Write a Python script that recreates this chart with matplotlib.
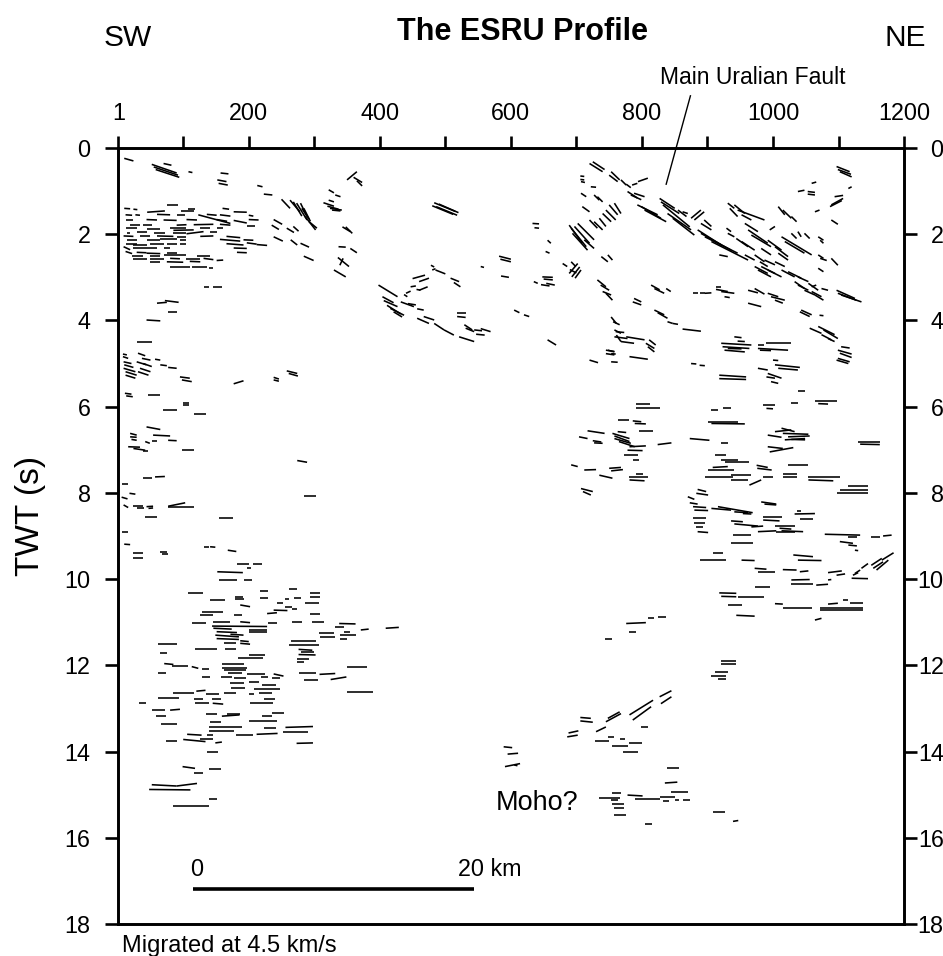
import matplotlib
matplotlib.use("Agg")
import matplotlib.pyplot as plt
from matplotlib.collections import LineCollection

plt.rcParams['font.family'] = ['Liberation Sans', 'DejaVu Sans']

# line drawing of reflections, segments as (cdp0, twt0, cdp1, twt1)
sw_shallow = [
    (10, 0.24, 24, 0.30), (52, 0.38, 90, 0.58), (55, 0.44, 92, 0.63), (58, 0.50, 94, 0.68),
    (70, 0.36, 82, 0.40), (108, 0.55, 114, 0.57), (157, 0.58, 169, 0.60), (152, 0.74, 166, 0.78),
    (154, 0.82, 168, 0.86), (213, 0.87, 221, 0.90), (223, 1.07, 236, 1.09),
]

sw_cluster = [
    (75, 1.33, 92, 1.33),
    (10, 1.40, 19, 1.41), (24, 1.42, 30, 1.43), (108, 1.41, 118, 1.41), (160, 1.40, 170, 1.42),
    (45, 1.49, 72, 1.46), (96, 1.47, 116, 1.47), (177, 1.48, 197, 1.49),
    (123, 1.55, 172, 1.75),
    (12, 1.55, 22, 1.56), (27, 1.55, 34, 1.56), (60, 1.54, 80, 1.55), (90, 1.56, 103, 1.56),
    (136, 1.54, 151, 1.56), (156, 1.55, 172, 1.58), (200, 1.56, 207, 1.58),
    (12, 1.67, 24, 1.67), (44, 1.66, 60, 1.67), (70, 1.67, 90, 1.68), (105, 1.66, 121, 1.67),
    (151, 1.66, 167, 1.70), (177, 1.68, 197, 1.74), (200, 1.66, 215, 1.67),
    (19, 1.78, 34, 1.78), (39, 1.79, 52, 1.79), (90, 1.79, 105, 1.78), (116, 1.78, 146, 1.77),
    (156, 1.77, 172, 1.79), (197, 1.82, 210, 1.82),
    (12, 1.86, 29, 1.86), (44, 1.87, 65, 1.87), (80, 1.86, 105, 1.86), (85, 1.91, 116, 1.90),
    (126, 1.86, 141, 1.86), (151, 1.85, 161, 1.85),
    (14, 1.97, 19, 1.97), (29, 1.96, 44, 1.96), (55, 1.98, 72, 1.98), (85, 1.98, 105, 1.98),
    (105, 1.99, 131, 1.94), (141, 1.96, 151, 1.96),
    (9, 2.04, 24, 2.05), (34, 2.05, 50, 2.05), (60, 2.04, 85, 2.05), (90, 2.06, 105, 2.06),
    (126, 2.05, 146, 2.04), (166, 2.05, 187, 2.08),
    (14, 2.13, 29, 2.13), (44, 2.14, 65, 2.14), (65, 2.12, 90, 2.12), (95, 2.13, 105, 2.13),
    (156, 2.12, 187, 2.16), (192, 2.13, 207, 2.14),
    (12, 2.22, 29, 2.22), (24, 2.24, 44, 2.24), (50, 2.22, 70, 2.22), (75, 2.23, 90, 2.23),
    (95, 2.22, 105, 2.22), (166, 2.22, 192, 2.25), (197, 2.20, 212, 2.23), (212, 2.24, 228, 2.26),
    (9, 2.29, 19, 2.36), (24, 2.32, 44, 2.32), (44, 2.33, 60, 2.33), (70, 2.32, 80, 2.32),
    (177, 2.32, 197, 2.33),
    (12, 2.40, 22, 2.45), (29, 2.42, 44, 2.43), (44, 2.44, 65, 2.45), (75, 2.43, 90, 2.43),
    (182, 2.42, 197, 2.43),
    (22, 2.50, 39, 2.50), (50, 2.51, 65, 2.51), (70, 2.48, 105, 2.48), (121, 2.50, 141, 2.50),
    (24, 2.57, 44, 2.57), (50, 2.58, 70, 2.58), (80, 2.56, 95, 2.57), (105, 2.57, 126, 2.57),
    (131, 2.56, 146, 2.59),
    (50, 2.64, 65, 2.64), (75, 2.64, 100, 2.65), (110, 2.63, 126, 2.64), (151, 2.61, 161, 2.60),
    (80, 2.75, 110, 2.75), (113, 2.75, 136, 2.75), (139, 2.79, 146, 2.79),
    (131, 3.23, 139, 3.23), (146, 3.23, 159, 3.23),
]

sw_steep = [
    (250, 1.19, 263, 1.40), (263, 1.21, 278, 1.48), (268, 1.25, 281, 1.58), (273, 1.28, 289, 1.67),
    (281, 1.40, 292, 1.65), (286, 1.59, 302, 1.90), (292, 1.71, 304, 1.86), (238, 1.66, 251, 1.77),
    (235, 1.79, 246, 1.89), (258, 1.86, 269, 1.96), (268, 1.82, 276, 1.93), (238, 2.06, 252, 2.16),
    (264, 2.13, 274, 2.25), (279, 2.21, 292, 2.30), (284, 2.51, 299, 2.61), (279, 1.28, 289, 1.59),
    (284, 1.40, 294, 1.70),
]

central_upper = [
    (350, 0.74, 365, 0.55), (360, 0.68, 373, 0.80), (365, 0.76, 373, 0.88),
    (322, 0.97, 330, 1.04), (332, 1.09, 340, 1.13),
    (314, 1.27, 330, 1.35), (320, 1.35, 337, 1.42), (324, 1.40, 342, 1.44), (322, 1.21, 330, 1.25),
    (327, 1.44, 340, 1.46),
    (343, 1.83, 355, 1.94), (348, 1.83, 358, 1.98),
    (337, 2.29, 348, 2.30), (355, 2.33, 365, 2.43),
    (336, 2.54, 353, 2.75), (330, 2.83, 348, 2.99), (339, 2.72, 344, 2.56),
    (483, 1.27, 515, 1.47), (480, 1.34, 512, 1.54), (486, 1.36, 518, 1.56), (490, 1.30, 520, 1.50),
    (554, 2.75, 559, 2.77), (582, 2.51, 600, 2.58), (584, 2.58, 600, 2.64), (585, 2.97, 597, 3.00),
    (633, 1.75, 643, 1.76), (636, 1.85, 643, 1.86), (656, 2.14, 661, 2.21), (653, 2.40, 659, 2.44),
    (635, 3.10, 641, 3.14),
    (648, 2.99, 664, 3.00), (650, 3.04, 664, 3.06), (654, 3.14, 667, 3.18), (646, 3.17, 659, 3.20),
    (605, 3.76, 613, 3.82), (620, 3.87, 628, 3.91), (656, 4.45, 669, 4.57),
]

central_dipping = [
    (398, 3.18, 427, 3.45), (404, 3.45, 421, 3.59), (406, 3.54, 427, 3.68), (411, 3.65, 432, 3.85),
    (416, 3.72, 437, 3.88), (421, 3.80, 434, 3.92), (437, 3.40, 442, 3.45), (440, 3.37, 447, 3.32),
    (450, 3.03, 469, 2.95), (460, 3.10, 475, 3.02), (447, 3.22, 455, 3.20), (456, 3.28, 462, 3.30),
    (460, 3.30, 473, 3.22), (432, 3.57, 452, 3.68), (443, 3.61, 455, 3.64), (457, 3.73, 467, 3.76),
    (457, 3.95, 475, 4.07), (467, 3.91, 483, 3.99), (483, 4.07, 498, 4.22), (498, 4.22, 513, 4.34),
    (478, 2.72, 483, 2.76), (480, 2.83, 485, 2.80), (485, 2.83, 500, 2.92),
    (508, 3.02, 521, 3.10), (513, 3.12, 523, 3.22), (518, 3.82, 531, 3.82), (518, 3.91, 531, 3.93),
    (529, 4.10, 541, 4.22), (531, 4.18, 544, 4.26), (544, 4.22, 556, 4.24), (554, 4.19, 569, 4.26),
    (521, 4.38, 544, 4.49), (547, 4.32, 560, 4.34),
]

ne_upper_west = [
    (720, 0.36, 740, 0.55), (725, 0.32, 743, 0.50), (753, 0.55, 766, 0.74), (750, 0.63, 763, 0.78),
    (706, 0.65, 712, 0.66), (706, 0.73, 712, 0.74), (707, 0.78, 713, 0.80), (722, 0.90, 730, 0.91),
    (707, 1.05, 715, 1.13), (727, 1.09, 735, 1.21), (732, 1.13, 740, 1.25), (709, 1.36, 720, 1.48),
    (689, 1.79, 709, 2.21), (692, 1.86, 715, 2.29), (697, 1.82, 720, 2.21), (694, 1.98, 717, 2.37),
    (702, 1.75, 727, 2.13), (712, 2.13, 727, 2.33),
    (720, 1.67, 732, 1.86), (727, 1.71, 740, 1.90), (735, 1.63, 745, 1.82), (740, 1.52, 753, 1.71),
    (745, 1.44, 760, 1.67), (750, 1.32, 763, 1.55), (758, 1.28, 768, 1.52),
    (679, 2.68, 686, 2.75), (692, 2.64, 699, 2.75), (689, 2.91, 702, 2.68), (693, 2.99, 705, 2.76),
    (698, 3.02, 707, 2.83), (690, 2.82, 700, 2.90), (738, 2.52, 748, 2.64), (748, 2.48, 755, 2.60),
    (732, 3.06, 745, 3.22), (737, 3.18, 750, 3.30), (740, 3.33, 753, 3.41), (745, 3.37, 755, 3.53),
    (753, 3.92, 761, 4.07), (756, 4.03, 766, 4.10), (758, 4.22, 768, 4.30), (761, 4.34, 768, 4.49),
    (720, 4.92, 733, 4.98), (745, 4.69, 758, 4.72), (745, 4.77, 758, 4.80), (753, 4.96, 763, 4.97),
]

ne_upper = [
    (768, 0.74, 776, 0.86), (776, 0.84, 783, 0.92), (794, 0.78, 809, 0.70), (785, 0.86, 793, 0.82),
    (778, 1.01, 793, 1.16), (783, 1.09, 799, 1.20), (788, 1.05, 804, 1.13),
    (793, 1.32, 824, 1.55), (799, 1.36, 829, 1.63), (804, 1.44, 837, 1.71), (827, 1.17, 850, 1.40),
    (829, 1.25, 857, 1.52), (832, 1.32, 873, 1.83), (839, 1.52, 875, 1.90), (847, 1.63, 880, 2.02),
    (855, 1.44, 868, 1.59), (862, 1.48, 870, 1.52), (875, 1.63, 890, 1.44), (880, 1.67, 895, 1.48),
    (885, 1.90, 921, 2.25), (890, 1.98, 936, 2.37), (896, 2.06, 946, 2.44), (906, 2.17, 962, 2.60),
    (918, 2.48, 931, 2.52), (890, 1.75, 906, 1.90), (895, 1.67, 906, 1.82),
    (929, 1.86, 936, 1.94), (931, 1.98, 941, 2.06), (931, 1.28, 941, 1.40), (934, 1.40, 946, 1.59),
    (941, 1.32, 957, 1.52), (946, 1.44, 987, 1.67), (952, 1.55, 967, 1.67), (957, 1.75, 977, 1.94),
    (962, 1.90, 992, 2.21), (967, 2.02, 997, 2.29), (944, 2.10, 962, 2.29), (952, 2.17, 972, 2.37),
    (957, 2.48, 972, 2.60), (972, 2.48, 987, 2.64), (980, 2.64, 992, 2.75), (982, 2.75, 1003, 2.91),
    (992, 2.83, 1013, 2.99), (992, 2.14, 1013, 2.37), (1003, 2.29, 1023, 2.52),
    (1013, 2.06, 1059, 2.48), (1018, 2.17, 1048, 2.44), (1008, 2.44, 1023, 2.60), (995, 1.90, 1003, 1.82),
    (1008, 1.36, 1018, 1.55), (1015, 1.44, 1028, 1.63), (1028, 1.59, 1036, 1.71),
    (1028, 1.98, 1036, 2.10), (1038, 1.94, 1043, 2.06), (1048, 1.98, 1056, 2.10), (1069, 2.06, 1077, 2.14),
    (1072, 2.14, 1077, 2.21), (1069, 2.48, 1077, 2.56), (1072, 2.56, 1082, 2.61), (1089, 2.56, 1099, 2.72),
    (1069, 2.79, 1077, 2.87), (1003, 2.64, 1018, 2.75), (1013, 2.83, 1033, 2.99), (1023, 2.87, 1043, 3.02),
    (1038, 2.99, 1054, 3.10), (972, 2.75, 992, 2.91), (977, 2.83, 997, 2.99), (982, 2.33, 997, 2.48),
    (987, 2.60, 1003, 2.71),
    (1097, 0.43, 1117, 0.55), (1099, 0.50, 1119, 0.61), (1102, 0.55, 1120, 0.67),
    (1059, 0.82, 1066, 0.79), (1038, 1.01, 1048, 0.98), (1053, 1.01, 1064, 1.03), (1053, 1.07, 1064, 1.09),
    (1115, 0.94, 1120, 0.90), (1089, 1.32, 1107, 1.17), (1087, 1.36, 1105, 1.22), (1064, 1.48, 1071, 1.44),
    (1094, 1.13, 1107, 1.10), (1089, 1.67, 1099, 1.77),
]

ne_mid = [
    (1033, 3.10, 1048, 3.26), (1038, 3.18, 1054, 3.30), (1054, 3.14, 1069, 3.30), (1048, 3.30, 1064, 3.41),
    (1059, 3.33, 1074, 3.45), (1064, 3.41, 1077, 3.53), (1059, 3.22, 1066, 3.18), (1074, 3.26, 1084, 3.30),
    (1097, 3.30, 1125, 3.49), (1099, 3.37, 1127, 3.53), (1104, 3.41, 1135, 3.57),
    (1043, 3.76, 1059, 3.87), (1041, 3.80, 1056, 3.91), (1071, 3.88, 1077, 3.89),
    (1056, 4.18, 1074, 4.30), (1069, 4.14, 1094, 4.33), (1077, 4.22, 1099, 4.42), (1074, 4.33, 1089, 4.45),
    (1084, 4.42, 1094, 4.49),
    (1104, 4.61, 1117, 4.64), (1099, 4.69, 1120, 4.78), (1102, 4.76, 1120, 4.86), (1099, 4.88, 1117, 4.96),
    (1097, 4.92, 1115, 5.00),
    (878, 3.37, 885, 3.37), (888, 3.37, 896, 3.37), (896, 3.37, 906, 3.36),
    (913, 3.22, 921, 3.22), (913, 3.28, 931, 3.33), (921, 3.33, 941, 3.37), (926, 3.45, 934, 3.47),
    (814, 3.18, 827, 3.29), (819, 3.26, 834, 3.37), (837, 3.26, 844, 3.33),
    (788, 3.49, 799, 3.57), (786, 3.57, 799, 3.64),
    (819, 3.76, 834, 3.87), (824, 3.82, 839, 3.95), (839, 4.03, 847, 4.07), (847, 4.07, 855, 4.09),
    (862, 4.20, 890, 4.25),
    (962, 3.30, 977, 3.36), (972, 3.26, 987, 3.39), (962, 3.60, 982, 3.68), (992, 3.37, 1008, 3.45),
    (997, 3.45, 1018, 3.53), (1003, 3.53, 1015, 3.60),
    (760, 4.26, 773, 4.28), (758, 4.38, 778, 4.42), (776, 4.38, 804, 4.45), (768, 4.49, 788, 4.53),
    (811, 4.45, 821, 4.57), (806, 4.53, 819, 4.65), (809, 4.61, 819, 4.73),
    (748, 4.69, 758, 4.73), (753, 4.77, 760, 4.78), (781, 4.84, 809, 4.90),
    (921, 4.53, 967, 4.57), (923, 4.61, 964, 4.65), (926, 4.69, 957, 4.73), (931, 4.65, 952, 4.66),
    (941, 4.38, 952, 4.40), (946, 4.48, 957, 4.49),
    (977, 4.57, 987, 4.57), (990, 4.53, 1028, 4.53), (977, 4.65, 1023, 4.69), (980, 4.69, 997, 4.70),
    (875, 5.00, 883, 5.01), (888, 5.04, 896, 5.05), (918, 5.27, 959, 5.31), (918, 5.35, 959, 5.37),
    (977, 5.11, 992, 5.15), (1003, 5.03, 1041, 5.09), (1008, 5.11, 1038, 5.15), (1000, 4.92, 1008, 4.93),
    (992, 5.23, 1013, 5.34), (990, 5.31, 1003, 5.34), (997, 5.42, 1008, 5.46),
]

ne_deep = [
    (1038, 5.63, 1049, 5.63), (1064, 5.86, 1097, 5.86), (1069, 5.93, 1084, 5.94), (1028, 5.92, 1038, 5.92),
    (985, 5.96, 1003, 5.96), (990, 6.04, 1000, 6.05), (906, 6.08, 916, 6.08), (924, 6.02, 936, 6.02),
    (791, 5.94, 812, 5.94), (791, 6.03, 827, 6.03),
    (763, 6.31, 781, 6.31), (786, 6.33, 799, 6.35), (789, 6.39, 806, 6.40), (796, 6.56, 817, 6.56),
    (717, 6.56, 743, 6.62), (704, 6.70, 717, 6.74), (725, 6.79, 738, 6.82), (727, 6.84, 740, 6.85),
    (755, 6.62, 781, 6.74), (758, 6.68, 781, 6.81), (758, 6.74, 783, 6.85), (765, 6.81, 789, 6.93),
    (763, 6.58, 776, 6.60),
    (781, 6.93, 806, 6.91), (778, 7.01, 801, 7.02), (773, 7.12, 794, 7.12), (786, 7.24, 796, 7.24),
    (824, 6.88, 845, 6.84), (873, 6.74, 903, 6.78), (921, 6.84, 931, 6.84),
    (901, 6.35, 947, 6.35), (906, 6.39, 957, 6.40),
    (992, 6.66, 1013, 6.71), (1003, 6.58, 1028, 6.54), (1013, 6.50, 1033, 6.58), (1015, 6.62, 1054, 6.64),
    (1023, 6.70, 1056, 6.68), (1028, 6.76, 1049, 6.77), (1018, 6.77, 1049, 6.74), (992, 6.93, 1015, 6.97),
    (995, 7.05, 1031, 6.95),
    (1130, 6.81, 1163, 6.81), (1133, 6.87, 1163, 6.88),
    (692, 7.35, 702, 7.39), (712, 7.47, 730, 7.46), (735, 7.59, 755, 7.66), (750, 7.43, 768, 7.41),
    (753, 7.49, 771, 7.46), (781, 7.63, 809, 7.63), (781, 7.70, 804, 7.72), (791, 7.56, 801, 7.56),
    (707, 7.90, 725, 7.97), (710, 7.97, 722, 8.05),
    (911, 7.12, 929, 7.12), (921, 7.24, 947, 7.24), (926, 7.28, 964, 7.28), (901, 7.46, 941, 7.46),
    (908, 7.41, 931, 7.39), (896, 7.64, 939, 7.64), (936, 7.59, 967, 7.59), (936, 7.70, 962, 7.70),
    (964, 7.82, 982, 7.70), (975, 7.36, 992, 7.41), (976, 7.43, 998, 7.47), (985, 7.64, 1000, 7.64),
    (1015, 7.56, 1036, 7.56), (1015, 7.64, 1036, 7.64), (1023, 7.36, 1054, 7.36), (1054, 7.63, 1102, 7.63),
    (1054, 7.70, 1092, 7.72),
    (1097, 8.01, 1145, 8.01), (1102, 7.94, 1145, 7.94), (1115, 7.84, 1145, 7.84),
    (870, 8.09, 880, 8.15), (873, 8.23, 885, 8.26), (885, 7.92, 898, 7.97), (883, 8.01, 901, 8.05),
    (878, 8.32, 898, 8.34), (880, 8.40, 901, 8.41), (906, 8.36, 936, 8.40), (916, 8.32, 969, 8.46),
    (941, 8.44, 962, 8.46), (954, 8.48, 967, 8.49),
    (982, 8.21, 1005, 8.26), (987, 8.26, 1005, 8.28),
    (1036, 8.41, 1043, 8.41), (1033, 8.49, 1064, 8.48), (985, 8.55, 1013, 8.55), (985, 8.63, 1010, 8.65),
    (1041, 8.61, 1061, 8.61), (936, 8.65, 954, 8.67), (941, 8.72, 977, 8.77), (967, 8.79, 985, 8.77),
    (977, 8.90, 1005, 8.88), (1003, 8.77, 1033, 8.77), (1010, 8.82, 1028, 8.84), (1013, 8.88, 1046, 8.90),
    (1005, 8.90, 1033, 8.90),
    (878, 8.59, 898, 8.59), (880, 8.69, 896, 8.69), (883, 8.79, 893, 8.79), (885, 8.90, 901, 8.92),
    (939, 8.98, 967, 8.98), (936, 9.17, 969, 9.17),
    (1079, 8.96, 1133, 8.98), (1115, 9.03, 1128, 9.03), (1102, 9.13, 1122, 9.17), (1115, 9.21, 1128, 9.23),
    (1125, 9.33, 1130, 9.34), (1150, 9.02, 1163, 9.02), (1168, 9.00, 1181, 8.98),
    (908, 9.39, 924, 9.39), (888, 9.56, 929, 9.56), (952, 9.56, 972, 9.57),
    (1031, 9.44, 1061, 9.48), (1038, 9.56, 1074, 9.57),
    (972, 9.75, 990, 9.77), (977, 9.83, 1003, 9.83), (1015, 9.78, 1036, 9.79), (1041, 9.83, 1054, 9.81),
    (1084, 9.85, 1105, 9.81), (1097, 9.91, 1110, 9.88), (1122, 9.91, 1130, 9.85),
    (1028, 10.02, 1056, 10.01), (1028, 10.12, 1061, 10.12), (1066, 10.14, 1084, 10.12), (1084, 10.02, 1089, 10.01),
    (1120, 9.98, 1145, 9.99),
    (1125, 9.87, 1133, 9.79), (1135, 9.75, 1145, 9.64), (1150, 9.68, 1166, 9.52), (1153, 9.75, 1168, 9.60),
    (1158, 9.79, 1176, 9.56), (1166, 9.56, 1184, 9.39),
    (972, 10.18, 995, 10.18), (918, 10.32, 944, 10.33), (921, 10.40, 944, 10.41), (947, 10.41, 987, 10.41),
    (931, 10.60, 952, 10.60), (944, 10.84, 972, 10.86),
    (1003, 10.57, 1015, 10.58), (1015, 10.68, 1059, 10.68), (1071, 10.66, 1138, 10.66), (1071, 10.72, 1138, 10.72),
    (1107, 10.49, 1115, 10.49), (1117, 10.55, 1138, 10.55), (1084, 10.58, 1099, 10.56), (1064, 10.95, 1074, 10.91),
    (776, 11.03, 806, 11.01), (809, 10.91, 819, 10.91), (824, 10.89, 837, 10.89), (781, 11.22, 791, 11.22),
    (743, 11.40, 755, 11.40),
]

ne_lower = [
    (921, 11.90, 944, 11.90), (921, 11.96, 944, 11.96), (911, 12.15, 931, 12.15), (905, 12.25, 929, 12.25),
    (916, 12.32, 929, 12.32),
    (827, 12.73, 845, 12.59), (829, 12.89, 845, 12.73), (781, 13.15, 817, 12.81), (786, 13.27, 814, 12.96),
    (745, 13.31, 768, 13.12), (748, 13.23, 766, 13.08), (730, 13.54, 745, 13.43), (706, 13.21, 722, 13.23),
    (706, 13.29, 725, 13.32), (799, 13.44, 810, 13.44), (686, 13.66, 702, 13.62), (688, 13.57, 703, 13.52),
    (728, 13.75, 750, 13.75), (748, 13.66, 758, 13.66), (755, 13.87, 778, 13.87), (766, 13.70, 774, 13.70),
    (781, 13.80, 800, 13.80), (771, 14.01, 794, 14.01),
    (589, 13.89, 602, 13.91), (595, 14.06, 611, 14.04), (591, 14.35, 614, 14.28), (605, 14.31, 610, 14.33),
]

moho_zone = [
    (839, 14.38, 857, 14.38), (835, 14.73, 854, 14.71), (845, 14.93, 870, 14.93),
    (735, 15.07, 766, 15.07), (755, 14.97, 768, 14.97), (753, 15.13, 763, 15.13), (755, 15.22, 773, 15.22),
    (758, 15.32, 773, 15.32), (758, 15.47, 776, 15.47), (778, 15.01, 801, 15.03), (789, 15.09, 827, 15.09),
    (828, 15.05, 850, 15.05), (832, 15.14, 842, 15.14), (850, 15.13, 857, 15.13), (862, 15.13, 873, 15.13),
    (908, 15.40, 926, 15.40), (939, 15.62, 947, 15.60), (804, 15.68, 815, 15.68),
]

sw_mid = [
    (60, 3.60, 75, 3.58), (72, 3.54, 93, 3.58), (77, 3.80, 90, 3.80), (44, 3.99, 65, 4.01), (29, 4.49, 52, 4.49),
    (8, 4.78, 14, 4.80), (8, 4.84, 16, 4.88), (9, 4.96, 21, 5.00), (10, 5.03, 24, 5.09), (9, 5.11, 27, 5.19),
    (12, 5.19, 29, 5.27), (12, 5.27, 27, 5.34), (29, 4.96, 44, 5.03), (31, 4.76, 42, 4.82), (37, 4.88, 50, 4.92),
    (39, 5.00, 52, 5.07), (34, 5.11, 50, 5.19), (31, 5.19, 47, 5.27), (57, 4.90, 65, 4.92), (65, 5.03, 75, 5.05),
    (77, 5.09, 90, 5.11), (95, 5.31, 110, 5.34), (98, 5.38, 113, 5.42),
    (177, 5.47, 192, 5.40), (238, 5.32, 246, 5.36), (238, 5.38, 246, 5.41), (258, 5.17, 274, 5.23),
    (261, 5.23, 275, 5.29),
    (11, 5.69, 21, 5.71), (13, 5.75, 23, 5.77), (47, 5.73, 65, 5.73), (69, 6.08, 90, 6.08),
    (99, 5.92, 109, 5.92), (99, 5.96, 109, 5.96), (116, 6.17, 135, 6.17), (44, 6.47, 65, 6.53),
    (54, 6.66, 80, 6.68), (19, 6.62, 29, 6.66), (19, 6.70, 29, 6.71), (21, 6.76, 29, 6.78),
    (42, 6.81, 49, 6.85), (52, 6.79, 60, 6.79), (77, 6.78, 90, 6.79),
    (16, 6.93, 34, 6.94), (24, 6.97, 42, 7.01), (39, 7.02, 47, 7.02), (98, 7.00, 116, 7.00),
    (274, 7.25, 289, 7.29), (39, 7.66, 52, 7.66), (57, 7.63, 72, 7.62), (6, 7.80, 16, 7.80),
    (18, 8.01, 27, 8.03), (6, 8.10, 15, 8.14), (9, 8.28, 16, 8.34), (24, 8.31, 39, 8.31),
    (29, 8.36, 40, 8.36), (44, 8.32, 54, 8.31), (47, 8.36, 54, 8.35), (77, 8.31, 103, 8.23),
    (77, 8.32, 116, 8.32), (42, 8.55, 60, 8.55), (154, 8.59, 176, 8.59), (284, 8.07, 303, 8.07),
    (6, 8.90, 16, 8.90), (10, 9.19, 19, 9.20), (24, 9.40, 39, 9.40), (24, 9.50, 39, 9.50),
    (65, 9.37, 75, 9.37), (67, 9.42, 77, 9.42), (132, 9.25, 139, 9.25), (141, 9.25, 149, 9.26),
    (168, 9.33, 181, 9.36),
]

sw_deep = [
    (182, 9.64, 201, 9.64), (207, 9.64, 220, 9.64), (152, 9.83, 191, 9.85), (197, 9.74, 203, 9.74),
    (154, 10.01, 182, 10.01), (192, 10.02, 205, 10.02), (108, 10.33, 130, 10.33),
    (141, 10.49, 164, 10.49), (179, 10.41, 191, 10.41), (179, 10.47, 192, 10.47), (217, 10.27, 230, 10.27),
    (217, 10.45, 230, 10.45), (243, 10.55, 253, 10.55), (261, 10.24, 274, 10.24), (256, 10.47, 261, 10.47),
    (269, 10.45, 279, 10.45), (294, 10.32, 309, 10.32), (286, 10.55, 307, 10.55), (294, 10.41, 309, 10.41),
    (187, 10.60, 202, 10.64),
    (128, 10.77, 161, 10.77), (126, 10.83, 146, 10.83), (177, 10.83, 190, 10.83), (238, 10.72, 259, 10.73),
    (228, 10.80, 243, 10.78), (256, 10.64, 266, 10.64), (266, 10.70, 274, 10.70), (294, 10.80, 309, 10.80),
    (113, 11.03, 134, 11.03), (146, 10.99, 172, 10.99), (144, 11.09, 228, 11.10), (187, 10.99, 202, 11.01),
    (230, 11.03, 243, 11.03), (266, 10.99, 281, 10.99), (297, 10.99, 315, 10.99), (338, 11.03, 363, 11.04),
    (332, 11.11, 345, 11.11),
    (146, 11.14, 174, 11.16), (200, 11.18, 228, 11.18), (200, 11.22, 228, 11.22), (151, 11.22, 182, 11.24),
    (149, 11.30, 185, 11.34), (172, 11.28, 192, 11.30), (151, 11.38, 185, 11.40), (162, 11.48, 180, 11.48),
    (187, 11.43, 200, 11.45), (187, 11.49, 202, 11.51), (307, 11.26, 330, 11.26), (309, 11.34, 332, 11.34),
    (345, 11.22, 355, 11.22), (340, 11.30, 363, 11.30), (340, 11.38, 350, 11.38), (371, 11.18, 383, 11.16),
    (409, 11.14, 429, 11.12),
    (264, 11.43, 302, 11.43), (261, 11.53, 307, 11.53), (276, 11.63, 297, 11.65), (279, 11.69, 299, 11.69),
    (276, 11.75, 302, 11.76), (274, 11.86, 292, 11.86), (274, 11.93, 284, 11.93),
    (61, 11.51, 90, 11.51), (118, 11.63, 152, 11.63), (163, 11.63, 180, 11.63), (65, 11.71, 75, 11.71),
    (200, 11.75, 225, 11.75), (183, 11.83, 222, 11.83), (71, 11.96, 85, 11.98), (83, 12.02, 108, 12.02),
    (113, 12.03, 123, 12.07), (128, 12.09, 139, 12.09), (159, 11.98, 192, 11.98), (159, 12.06, 197, 12.06),
    (162, 12.10, 196, 12.10), (61, 12.17, 74, 12.17),
    (169, 12.17, 190, 12.17), (197, 12.21, 225, 12.21), (218, 12.27, 230, 12.27), (238, 12.20, 253, 12.25),
    (235, 12.30, 248, 12.30), (276, 12.17, 302, 12.17), (308, 12.21, 332, 12.19), (284, 12.33, 305, 12.33),
    (325, 12.33, 349, 12.27), (350, 12.03, 381, 12.03),
    (128, 12.28, 141, 12.28), (157, 12.28, 174, 12.28), (178, 12.30, 196, 12.30), (200, 12.38, 215, 12.38),
    (172, 12.40, 192, 12.40), (208, 12.54, 247, 12.54), (220, 12.46, 241, 12.46), (173, 12.52, 195, 12.52),
    (84, 12.64, 117, 12.64), (120, 12.60, 134, 12.58), (134, 12.67, 154, 12.67), (162, 12.64, 180, 12.64),
    (200, 12.67, 208, 12.67), (215, 12.65, 236, 12.65), (61, 12.75, 94, 12.75), (116, 12.77, 130, 12.77),
    (144, 12.78, 157, 12.78), (202, 12.87, 237, 12.87), (223, 12.77, 240, 12.77), (118, 12.88, 139, 12.88),
    (145, 12.88, 161, 12.90), (350, 12.61, 390, 12.61), (32, 12.87, 43, 12.87),
    (52, 13.04, 72, 13.04), (80, 13.04, 95, 13.02), (59, 13.17, 74, 13.17), (66, 13.35, 91, 13.35),
    (134, 13.13, 151, 13.13), (159, 13.18, 186, 13.15), (167, 13.12, 186, 13.12), (141, 13.31, 158, 13.31),
    (139, 13.44, 189, 13.44), (139, 13.53, 178, 13.53), (201, 13.29, 243, 13.29), (220, 13.18, 236, 13.18),
    (236, 13.10, 254, 13.10), (223, 13.46, 241, 13.46), (212, 13.60, 244, 13.58), (181, 13.62, 207, 13.62),
    (256, 13.44, 298, 13.42), (253, 13.54, 291, 13.54), (273, 13.81, 298, 13.80),
    (74, 13.75, 90, 13.75), (100, 13.72, 134, 13.77), (106, 13.60, 128, 13.62), (126, 13.70, 146, 13.70),
    (137, 13.62, 145, 13.62), (149, 13.80, 159, 13.78), (137, 14.00, 153, 14.00),
    (99, 14.35, 118, 14.39), (116, 14.49, 130, 14.49), (139, 14.41, 157, 14.41),
    (52, 14.77, 90, 14.80), (90, 14.80, 121, 14.74), (48, 14.88, 111, 14.89),
    (139, 15.09, 151, 15.09), (85, 15.26, 139, 15.26),
]

groups = [sw_shallow, sw_cluster, sw_steep, central_upper, central_dipping, ne_upper_west,
          ne_upper, ne_mid, ne_deep, ne_lower, moho_zone, sw_mid, sw_deep]

x_ticks = list(range(100, 1201, 100))
x_tick_labels = ['1', '', '200', '', '400', '', '600', '', '800', '', '1000', '', '1200']
y_ticks = list(range(0, 19, 2))

fault_line = [(874, -1.21), (837, 0.84)]
scale_bar_cdp = [115, 543]
scale_bar_twt = 17.2

fig = plt.figure(figsize=(9.43, 9.56), dpi=100)
ax = fig.add_axes([0.1255, 0.0335, 0.8332, 0.8117])

segs = []
for g in groups:
    for x0, y0, x1, y1 in g:
        segs.append([(x0, y0), (x1, y1)])
ax.add_collection(LineCollection(segs, colors='black', linewidths=1.15, capstyle='butt'))

ax.set_xlim(1, 1200)
ax.set_ylim(18, 0)

ax.xaxis.tick_top()
ax.set_xticks([1] + x_ticks)
ax.set_xticklabels(x_tick_labels)
ax.set_yticks(y_ticks)
ax.tick_params(axis='x', direction='out', length=9, width=1.9, pad=7.5, labelsize=16.8)
ax.tick_params(axis='y', direction='out', length=9.5, width=1.9, pad=10.5, labelsize=16.8)
for s in ax.spines.values():
    s.set_linewidth(1.9)

ax2 = ax.twinx()
ax2.set_ylim(18, 0)
ax2.set_yticks(y_ticks)
ax2.tick_params(axis='y', direction='out', length=9.5, width=1.9, pad=19, labelsize=16.8)
for lab in ax2.get_yticklabels():
    lab.set_horizontalalignment('right')
for s in ax2.spines.values():
    s.set_linewidth(1.9)

ax.set_ylabel('TWT (s)', fontsize=24)
ax.yaxis.set_label_coords(-0.092, 0.526)

# annotations
ax.plot([p[0] for p in fault_line], [p[1] for p in fault_line], color='black', lw=1.0, clip_on=False)
ax.text(969, -1.49, 'Main Uralian Fault', ha='center', va='baseline', fontsize=16.5, clip_on=False)
ax.text(577, 15.35, 'Moho?', ha='left', va='baseline', fontsize=19.5)
ax.plot(scale_bar_cdp, [scale_bar_twt, scale_bar_twt], color='black', lw=2.6, solid_capstyle='butt')
ax.text(scale_bar_cdp[0] + 5, 16.89, '0', ha='center', va='baseline', fontsize=16.8)
ax.text(519, 16.89, '20 km', ha='left', va='baseline', fontsize=16.8)

fig.text(0.5546, 1 - 40 / 956, 'The ESRU Profile', ha='center', va='baseline', fontsize=22, fontweight='bold')
fig.text(0.1357, 1 - 46 / 956, 'SW', ha='center', va='baseline', fontsize=21.5)
fig.text(0.9597, 1 - 46 / 956, 'NE', ha='center', va='baseline', fontsize=21.5)
fig.text(122 / 943, 1 - 952 / 956, 'Migrated at 4.5 km/s', ha='left', va='baseline', fontsize=17)

fig.savefig('out.png', dpi=100)
